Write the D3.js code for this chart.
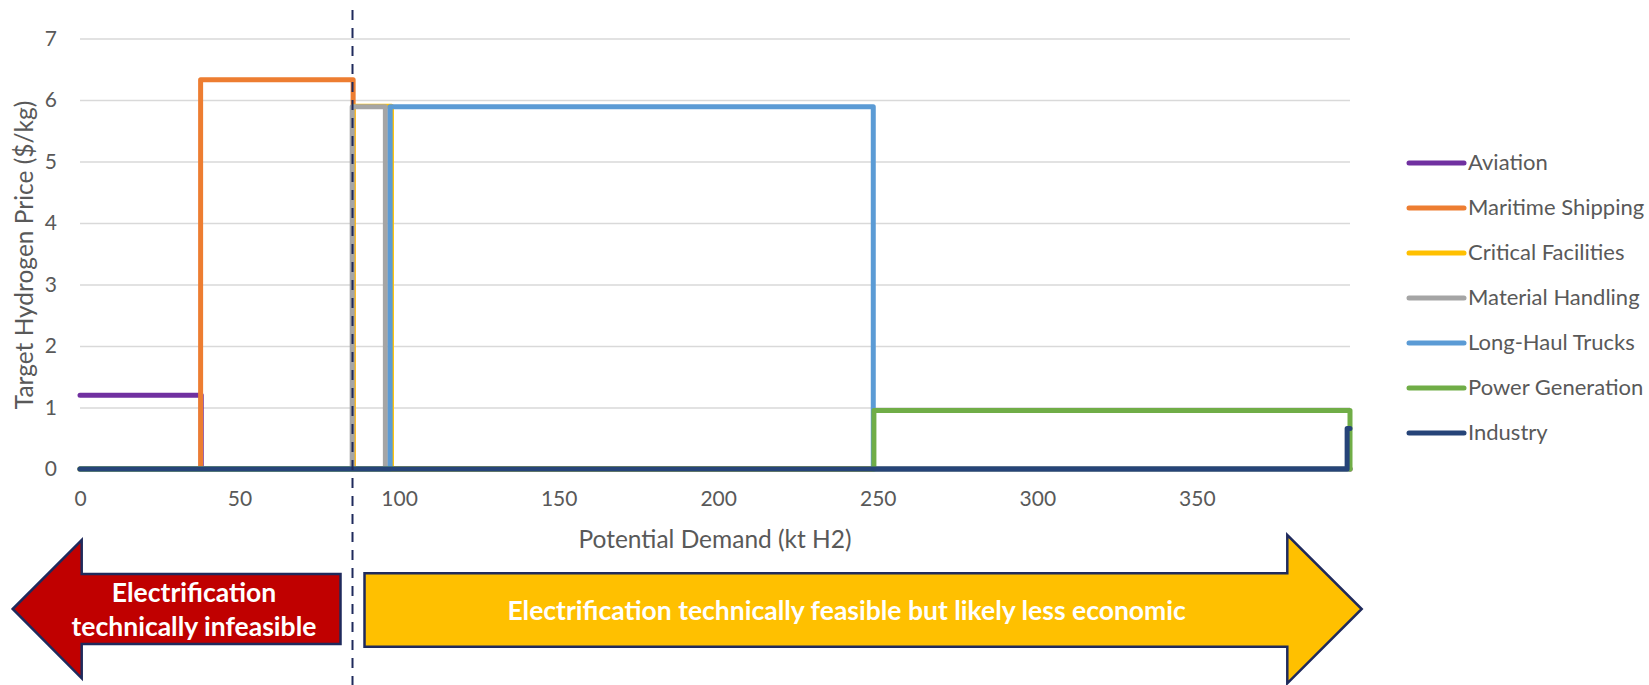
<!DOCTYPE html>
<html>
<head>
<meta charset="utf-8">
<script src="https://cdn.jsdelivr.net/npm/d3@7"></script>
<style>
    body { margin: 0; background: #fff; }
    svg { display: block; }
</style>
</head>
<body>
<div id="chart"></div>
<script>
// sectors in series order (later ones are drawn on top)
const sectors = ["Aviation", "Maritime Shipping", "Critical Facilities", "Material Handling",
    "Long-Haul Trucks", "Power Generation", "Industry"];
// demand range each sector occupies (kt H2) and its target price ($/kg)
const demandStart = [0, 37.8, 85.6, 85.3, 97.2, 248.8, 397.1];
const demandEnd = [38.0, 85.6, 97.6, 95.7, 248.6, 398, 398];
const targetPrice = [1.2, 6.33, 5.9, 5.89, 5.89, 0.95, 0.66];
const sectorColors = ["#7030A0", "#ED7D31", "#FFC000", "#A5A5A5", "#5B9BD5", "#70AD47", "#264478"];

const xTicks = [0, 50, 100, 150, 200, 250, 300, 350];
const yTicks = [0, 1, 2, 3, 4, 5, 6, 7];
const xMax = 398;
const cutoff = 85.4; // electrification feasibility split

const width = 1649;
const height = 685;
const margin = { top: 38.5, right: 299, bottom: 216, left: 80 };
const plotW = width - margin.left - margin.right;
const plotH = height - margin.top - margin.bottom;

const font = "Lato, 'Open Sans', sans-serif";
const textGray = "#595959";
const navy = "#1F2A5C";

const root = d3.select("#chart")
    .append("svg")
    .attr("width", width)
    .attr("height", height)
    .style("font-family", font);

const svg = root.append("g")
    .attr("transform", `translate(${margin.left},${margin.top})`);

const xScale = d3.scaleLinear().domain([0, xMax]).range([0, plotW]);
const yScale = d3.scaleLinear().domain([0, 7]).range([plotH, 0]);

// gridlines
svg.append("g")
    .call(d3.axisLeft(yScale).tickValues(yTicks).tickSize(-plotW).tickFormat(""))
    .call(g => g.select(".domain").remove())
    .selectAll("line")
    .attr("stroke", "#D9D9D9")
    .attr("stroke-width", 1.5);

// axes
svg.append("g")
    .attr("transform", `translate(0,${plotH})`)
    .call(d3.axisBottom(xScale).tickValues(xTicks).tickSize(0).tickPadding(22).tickFormat(d3.format("d")))
    .call(g => g.select(".domain").remove())
    .selectAll("text")
    .attr("fill", textGray)
    .style("font-family", font)
    .attr("font-size", "21px");

svg.append("g")
    .call(d3.axisLeft(yScale).tickValues(yTicks).tickSize(0).tickPadding(23).tickFormat(d3.format("d")))
    .call(g => g.select(".domain").remove())
    .selectAll("text")
    .attr("fill", textGray)
    .style("font-family", font)
    .attr("font-size", "21px");

// step lines: flat at zero, up to the price over the sector's range, back to zero
const stepPoints = i => {
    const pts = [];
    if (demandStart[i] > 0) pts.push([0, 0], [demandStart[i], 0]);
    pts.push([demandStart[i], targetPrice[i]], [demandEnd[i], targetPrice[i]]);
    if (demandEnd[i] < xMax) pts.push([demandEnd[i], 0], [xMax, 0]);
    else if (i !== sectors.length - 1) pts.push([demandEnd[i], 0]);
    return pts;
};

const line = d3.line()
    .x(d => xScale(d[0]))
    .y(d => yScale(d[1]));

svg.selectAll(".sector")
    .data(sectors)
    .enter()
    .append("path")
    .attr("class", "sector")
    .attr("d", (d, i) => line(stepPoints(i)))
    .attr("fill", "none")
    .attr("stroke", (d, i) => sectorColors[i])
    .attr("stroke-width", 5)
    .attr("stroke-linejoin", "round")
    .attr("stroke-linecap", "round");

// axis titles
svg.append("text")
    .attr("x", plotW / 2)
    .attr("y", plotH + 79)
    .attr("text-anchor", "middle")
    .attr("fill", textGray)
    .attr("font-size", "24.5px")
    .text("Potential Demand (kt H2)");

svg.append("text")
    .attr("transform", `translate(${23 - margin.left},${255 - margin.top}) rotate(-90)`)
    .attr("text-anchor", "middle")
    .attr("dominant-baseline", "central")
    .attr("fill", textGray)
    .attr("font-size", "24.5px")
    .text("Target Hydrogen Price ($/kg)");

// legend
const legend = root.append("g")
    .attr("transform", "translate(1409,161)");

const row = legend.selectAll(".legend-row")
    .data(sectors)
    .enter()
    .append("g")
    .attr("class", "legend-row")
    .attr("transform", (d, i) => `translate(0,${i * 45})`);

row.append("line")
    .attr("x1", 0)
    .attr("x2", 55)
    .attr("y1", 2)
    .attr("y2", 2)
    .attr("stroke", (d, i) => sectorColors[i])
    .attr("stroke-width", 5)
    .attr("stroke-linecap", "round");

row.append("text")
    .attr("x", 59)
    .attr("dominant-baseline", "central")
    .attr("fill", textGray)
    .attr("font-size", "22px")
    .text(d => d);

// arrows below the chart, split at the cutoff
const cutX = margin.left + xScale(cutoff);
const midY = 609;

const leftArrow = [
    [12.7, midY], [81.7, 540], [81.7, 574], [cutX - 12, 574],
    [cutX - 12, 644], [81.7, 644], [81.7, 678.3]
];
const rightArrow = [
    [cutX + 12, 573.3], [1287.3, 573.3], [1287.3, 535], [1361.7, midY],
    [1287.3, 683.3], [1287.3, 646.7], [cutX + 12, 646.7]
];

root.append("path")
    .attr("d", d3.line()(leftArrow) + "Z")
    .attr("fill", "#C00000")
    .attr("stroke", navy)
    .attr("stroke-width", 2.5)
    .attr("stroke-linejoin", "miter");

root.append("path")
    .attr("d", d3.line()(rightArrow) + "Z")
    .attr("fill", "#FFC000")
    .attr("stroke", navy)
    .attr("stroke-width", 2.5)
    .attr("stroke-linejoin", "miter");

const leftText = root.append("text")
    .attr("text-anchor", "middle")
    .attr("fill", "#fff")
    .attr("font-weight", "bold")
    .attr("font-size", "26.5px");
leftText.append("tspan").attr("x", 194).attr("y", 602).text("Electrification");
leftText.append("tspan").attr("x", 194).attr("y", 635.5).text("technically infeasible");

root.append("text")
    .attr("x", 846.6)
    .attr("y", 620)
    .attr("text-anchor", "middle")
    .attr("fill", "#fff")
    .attr("font-weight", "bold")
    .attr("font-size", "26.5px")
    .text("Electrification technically feasible but likely less economic");

// dashed cutoff line
root.append("line")
    .attr("x1", cutX)
    .attr("x2", cutX)
    .attr("y1", 10)
    .attr("y2", height)
    .attr("stroke", navy)
    .attr("stroke-width", 2)
    .attr("stroke-dasharray", "10,8");
</script>
</body>
</html>
